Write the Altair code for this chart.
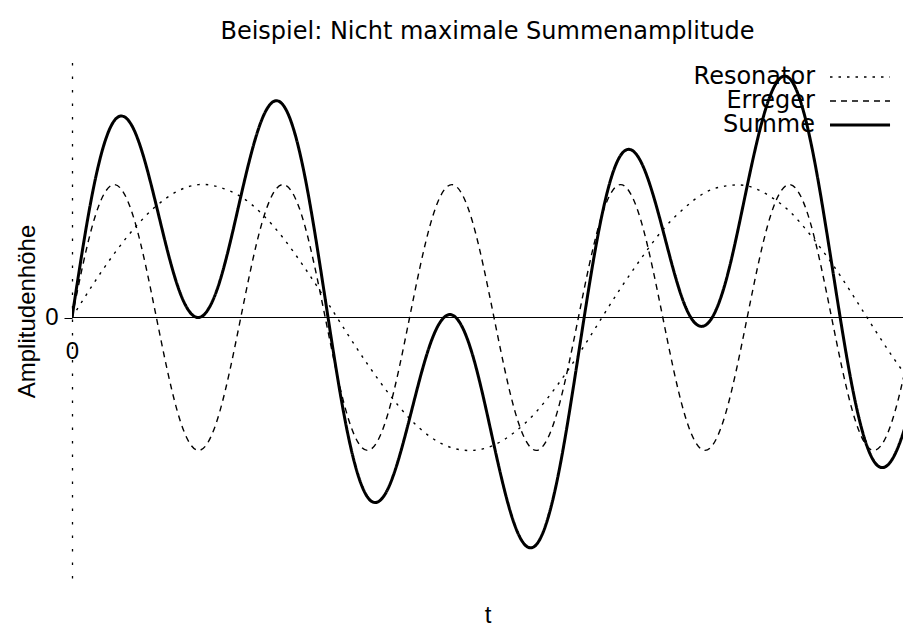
import altair as alt
import pandas as pd

# ---- data ----
t = [0.0, 0.25, 0.5, 0.75, 1.0, 1.25, 1.5, 1.75, 2.0, 2.25, 2.5, 2.75, 3.0, 3.25,
     3.5, 3.75, 4.0, 4.25, 4.5, 4.75, 5.0, 5.25, 5.5, 5.75, 6.0, 6.25, 6.5, 6.75,
     7.0, 7.25, 7.5, 7.75, 8.0, 8.25, 8.5, 8.75, 9.0, 9.25, 9.5, 9.75, 10.0]
resonator = [0.0, 0.25, 0.48, 0.68, 0.84, 0.95, 1.00, 0.98, 0.91, 0.78, 0.60, 0.38,
             0.14, -0.11, -0.35, -0.57, -0.76, -0.90, -0.98, -1.00, -0.96, -0.86,
             -0.71, -0.51, -0.28, -0.03, 0.22, 0.45, 0.66, 0.82, 0.94, 0.99, 0.99,
             0.92, 0.80, 0.62, 0.41, 0.17, -0.08, -0.32, -0.54]
erreger = [0.0, 0.71, 1.0, 0.71, 0.0, -0.71, -1.0, -0.71,
           0.0, 0.71, 1.0, 0.71, 0.0, -0.71, -1.0, -0.71,
           0.0, 0.71, 1.0, 0.71, 0.0, -0.71, -1.0, -0.71,
           0.0, 0.71, 1.0, 0.71, 0.0, -0.71, -1.0, -0.71,
           0.0, 0.71, 1.0, 0.71, 0.0, -0.71, -1.0, -0.71, 0.0]
summe = [0.0, 0.96, 1.48, 1.39, 0.84, 0.24, 0.00, 0.27, 0.91, 1.49, 1.60, 1.09,
         0.14, -0.82, -1.35, -1.28, -0.76, -0.19, 0.02, -0.29, -0.96, -1.57,
         -1.71, -1.22, -0.28, 0.68, 1.22, 1.16, 0.66, 0.11, -0.06, 0.28, 0.99,
         1.63, 1.80, 1.33, 0.41, -0.54, -1.08, -1.03, -0.54]
series_names = ["Resonator", "Erreger", "Summe"]
title_text = "Beispiel: Nicht maximale Summenamplitude"
x_title = "t"
y_title = "Amplitudenhöhe"
x_ticks = [0]
y_ticks = [0]

rows = []
for name, vals in zip(series_names, [resonator, erreger, summe]):
    for ti, v in zip(t, vals):
        rows.append({"t": ti, "value": v, "series": name})
df = pd.DataFrame(rows)

FONT = "Liberation Sans"
WIDE = "DejaVu Sans"
FS = 24
W, H = 831, 521

xscale = alt.Scale(domain=[0, 9.846], nice=False, zero=False)
yscale = alt.Scale(domain=[-1.96, 1.96], nice=False, zero=False)

legend = alt.Legend(
    title=None, orient="none", legendX=719, legendY=8,
    symbolType="M3.0,0H9.67", symbolSize=324,
    symbolFillColor="transparent", symbolStrokeColor="black",
    labelAlign="right", labelOffset=0, symbolOffset=0,
    labelFontSize=24, labelFont=WIDE, labelColor="black", labelLimit=0,
    rowPadding={"expr": "-3.5"}, padding=0,
)

zero_line = alt.Chart(pd.DataFrame({"a": [0]})).mark_rule(
    color="black", strokeWidth=1
).encode(y=alt.datum(0, scale=yscale))

lines = alt.Chart(df).mark_line(
    interpolate="natural", clip=True, color="black"
).encode(
    x=alt.X("t:Q", scale=xscale, axis=alt.Axis(
        values=x_ticks, format="d", offset=-H / 2, domain=False, ticks=False,
        grid=False, labelFlush=False, labelPadding=22, labelFontSize=FS,
        labelFont=FONT, labelColor="black", title=x_title, titleFontSize=FS,
        titleFont=FONT, titleColor="black", titleFontWeight="normal",
        titleY=305, titleBaseline="alphabetic")),
    y=alt.Y("value:Q", scale=yscale, axis=alt.Axis(
        values=y_ticks, format="d", domain=True, domainDash=[2.5, 11],
        domainColor="black", domainWidth=1.3, ticks=True, tickSize=8,
        tickColor="black", tickWidth=1, grid=False, labelPadding=6,
        labelFontSize=FS, labelFont=FONT, labelColor="black", title=y_title,
        titleFontSize=FS, titleFont=FONT, titleColor="black",
        titleFontWeight="normal", titleX=-38, titleY=254,
        titleBaseline="alphabetic")),
    strokeDash=alt.StrokeDash("series:N", scale=alt.Scale(
        domain=series_names, range=[[2.5, 6], [6, 5], [1, 0]]), legend=legend),
    strokeWidth=alt.StrokeWidth("series:N", scale=alt.Scale(
        type="ordinal", domain=series_names, range=[1.4, 1.4, 3]), legend=legend),
)

chart = alt.layer(zero_line, lines).properties(
    width=W, height=H,
    title=alt.Title(title_text, fontSize=FS, font=WIDE, fontWeight="normal",
                    color="black", anchor="middle", offset=19, dy=25,
                    baseline="alphabetic"),
    padding={"left": 64, "top": 49, "right": 0, "bottom": 50},
    autosize=alt.AutoSizeParams(type="none"),
).configure_view(stroke=None)

chart.save("out.html", embed_options={"renderer": "svg", "actions": False})
